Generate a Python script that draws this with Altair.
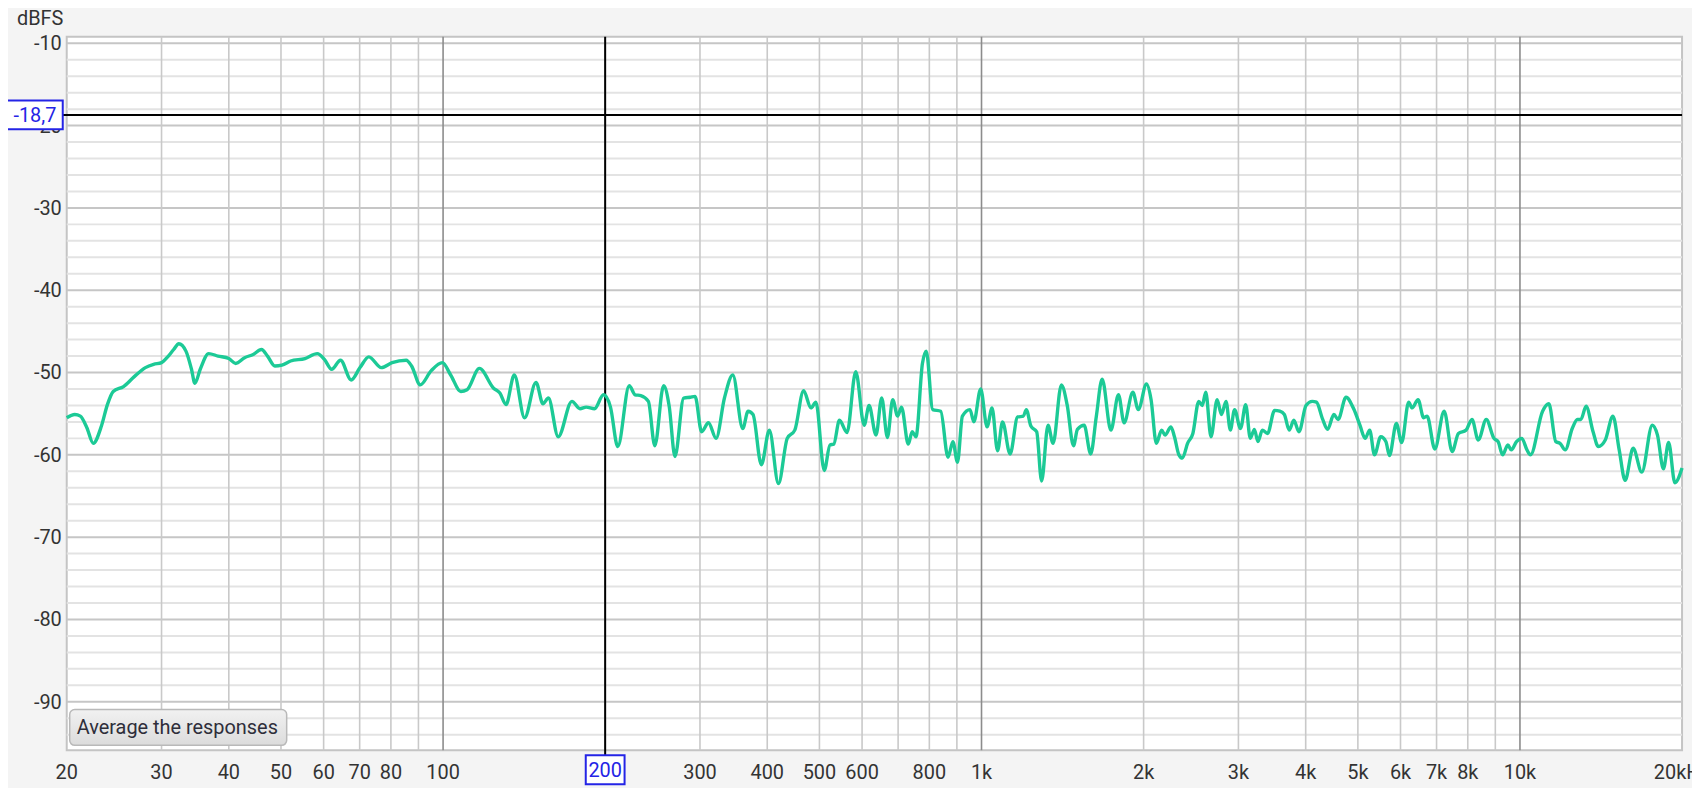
import altair as alt
import pandas as pd

# ---------------- data ----------------
freq = [20.0, 20.7, 21.2, 21.8, 22.4, 23.2, 23.8, 24.4, 25.5, 26.7, 28.0, 29.0, 30.0, 30.8, 31.6,
        32.3, 33.3, 34.1, 34.6, 35.4, 36.7, 38.2, 40.0, 41.2, 42.8, 44.4, 46.0, 47.2, 48.7, 50.2,
        52.1, 55.4, 58.4, 60.2, 62.1, 64.5, 67.5, 70.1, 72.8, 76.8, 80.4, 85.4, 87.4, 90.7, 95.0,
        99.7, 103.3, 107.9, 110.8, 116.8, 124.1, 127.5, 130.9, 135.6, 141.7, 148.8, 153.3, 156.9,
        163.6, 173.5, 179.6, 184.4, 191.1, 198.6, 204.6, 211.1, 221.7, 227.3, 232.9, 240.6, 247.3,
        256.8, 263.0, 269.6, 279.8, 287.7, 293.8, 302.1, 311.1, 321.4, 333.1, 345.2, 360.2, 368.5,
        376.4, 390.0, 403.6, 419.6, 435.7, 450.0, 467.3, 482.1, 492.5, 510.4, 523.0, 531.6, 544.7,
        562.6, 584.0, 605.4, 618.3, 636.8, 652.6, 668.7, 684.0, 698.6, 710.1, 731.2, 743.3, 755.5,
        776.7, 789.5, 811.6, 839.9, 866.5, 884.8, 902.3, 921.5, 952.0, 967.6, 996.5, 1024, 1046,
        1071, 1094, 1130, 1167, 1196, 1211, 1235, 1266, 1293, 1329, 1358, 1407, 1442, 1482, 1507,
        1551, 1595, 1634, 1675, 1739, 1796, 1840, 1910, 1955, 2025, 2065, 2112, 2160, 2192, 2248,
        2282, 2326, 2361, 2414, 2469, 2532, 2570, 2609, 2668, 2739, 2790, 2845, 2898, 2951, 3027,
        3095, 3156, 3212, 3261, 3323, 3398, 3502, 3581, 3651, 3728, 3802, 3887, 4005, 4114, 4188,
        4302, 4393, 4512, 4594, 4753, 4918, 5044, 5158, 5259, 5368, 5514, 5638, 5722, 5895, 6030,
        6213, 6306, 6468, 6625, 6724, 6948, 7231, 7483, 7686, 7941, 8145, 8366, 8659, 8947, 9108,
        9286, 9495, 9636, 9854, 10077, 10304, 10459, 11016, 11316, 11657, 11868, 12136, 12505,
        12787, 12976, 13268, 13671, 13980, 14403, 14883, 15287, 15678, 16225, 16838, 17607, 18005,
        18467, 18884, 19397, 20000]

level = [-55.5, -55.1, -55.3, -56.7, -58.6, -56.5, -53.9, -52.3, -51.7, -50.5, -49.4, -49.0, -48.8,
         -48.1, -47.2, -46.5, -47.4, -49.6, -51.3, -49.6, -47.7, -48.0, -48.3, -48.9, -48.2, -47.8,
         -47.2, -48.0, -49.2, -49.1, -48.6, -48.3, -47.7, -48.4, -49.6, -48.5, -50.9, -49.4, -48.1,
         -49.4, -48.8, -48.5, -49.2, -51.5, -49.8, -48.8, -50.3, -52.3, -52.1, -49.5, -51.9, -52.5,
         -53.9, -50.3, -55.5, -51.2, -53.8, -53.1, -57.8, -53.5, -54.4, -54.2, -54.4, -52.7, -54.2,
         -59.0, -51.6, -52.7, -52.8, -53.5, -58.9, -51.6, -54.1, -60.2, -53.1, -53.0, -52.9, -57.2,
         -56.1, -58.0, -53.1, -50.3, -56.8, -54.7, -55.1, -61.2, -57.0, -63.5, -58.0, -57.0, -52.2,
         -54.3, -53.6, -61.9, -58.8, -58.7, -55.8, -57.3, -49.9, -56.4, -54.0, -57.6, -53.1, -57.9,
         -53.3, -55.3, -54.2, -58.7, -57.2, -57.8, -48.9, -47.4, -54.5, -54.7, -60.3, -58.4, -60.9,
         -55.3, -54.5, -56.0, -52.0, -56.6, -54.3, -59.5, -56.0, -59.9, -55.4, -55.3, -54.5, -56.5,
         -57.2, -63.2, -56.4, -58.6, -51.5, -53.9, -58.9, -56.9, -56.4, -59.9, -55.3, -50.8, -57.0,
         -52.7, -56.1, -52.4, -54.5, -51.4, -53.3, -58.6, -57.0, -57.6, -56.6, -57.8, -60.0, -60.4,
         -58.6, -57.4, -53.5, -54.0, -52.4, -57.8, -53.3, -55.1, -53.5, -57.0, -54.5, -56.8, -53.9,
         -58.0, -56.9, -58.4, -57.0, -57.4, -54.6, -54.7, -55.1, -57.0, -55.8, -57.2, -54.0, -53.5,
         -53.6, -55.7, -56.9, -55.1, -55.7, -53.0, -54.5, -56.4, -58.0, -57.0, -60.0, -57.8, -58.4,
         -60.1, -56.2, -58.5, -53.6, -54.3, -53.3, -55.5, -55.3, -59.3, -54.7, -59.6, -57.4, -57.0,
         -55.7, -58.2, -55.7, -58.0, -58.4, -60.0, -58.8, -59.4, -58.4, -58.0, -59.4, -60.0, -54.7,
         -53.8, -58.4, -58.6, -59.4, -56.8, -55.7, -55.7, -54.1, -57.2, -59.0, -58.2, -55.3, -59.4,
         -63.1, -59.2, -62.1, -56.4, -57.6, -61.7, -58.5, -63.4, -61.6]

x_label_values = [20, 30, 40, 50, 60, 70, 80, 100, 300, 400, 500, 600, 800, 1000,
                  2000, 3000, 4000, 5000, 6000, 7000, 8000, 10000, 20000]
x_label_text = ["20", "30", "40", "50", "60", "70", "80", "100", "300", "400", "500", "600",
                "800", "1k", "2k", "3k", "4k", "5k", "6k", "7k", "8k", "10k", "20kHz"]
y_label_values = [-10, -20, -30, -40, -50, -60, -70, -80, -90]
y_label_text = ["-10", "-20", "-30", "-40", "-50", "-60", "-70", "-80", "-90"]
x_minor_grid = [30, 40, 50, 60, 70, 80, 90, 200, 300, 400, 500, 600, 700, 800, 900,
                2000, 3000, 4000, 5000, 6000, 7000, 8000, 9000]
x_decade_grid = [100, 1000, 10000]
y_major_grid = [-10, -20, -30, -40, -50, -60, -70, -80, -90]
y_minor_grid = [-12, -14, -16, -18, -22, -24, -26, -28, -32, -34, -36, -38, -42, -44, -46, -48,
                -52, -54, -56, -58, -62, -64, -66, -68, -72, -74, -76, -78, -82, -84, -86, -88,
                -92, -94]

cursor_freq = [200]
cursor_level = [-18.7]
cursor_freq_label = ["200"]
cursor_level_label = ["-18,7"]
button_label = ["Average the responses"]
y_unit = ["dBFS"]

# ---------------- chart ----------------
W, H = 1623, 717
FONT = "Roboto"
TEXT = "#333333"
BLUE = "#2424e6"

xs = alt.Scale(type="log", domain=[20, 20000], nice=False)
ys = alt.Scale(domain=[-95.9, -9.2], nice=False, zero=False)

resp = pd.DataFrame({"freq": freq, "level": level})
cur = pd.DataFrame({"freq": cursor_freq, "level": cursor_level,
                    "flab": cursor_freq_label, "llab": cursor_level_label})
btn = pd.DataFrame({"label": button_label})
xlab = pd.DataFrame({"v": x_label_values, "t": x_label_text})
ylab = pd.DataFrame({"v": y_label_values, "t": y_label_text})
unit = pd.DataFrame({"t": y_unit})


def hrules(vals, color, width):
    return alt.Chart(pd.DataFrame({"v": vals})).mark_rule(color=color, strokeWidth=width).encode(
        y=alt.Y("v:Q", scale=ys, axis=None))


def vrules(vals, color, width):
    return alt.Chart(pd.DataFrame({"v": vals})).mark_rule(color=color, strokeWidth=width).encode(
        x=alt.X("v:Q", scale=xs, axis=None))


g1 = hrules(y_minor_grid, "#e3e3e3", 2)
g2 = hrules(y_major_grid, "#c6c6c6", 2)
g3 = vrules(x_minor_grid, "#c9c9c9", 1.6)
g4 = vrules(x_decade_grid, "#8c8c8c", 1.6)

# tick labels drawn as text marks positioned through the scales
xticks = alt.Chart(xlab).mark_text(font=FONT, fontSize=20, color=TEXT, align="center",
                                   baseline="middle").encode(
    x=alt.X("v:Q", scale=xs, axis=None), y=alt.value(H + 23), text="t:N")
yticks = alt.Chart(ylab).mark_text(font=FONT, fontSize=20, color=TEXT, align="right",
                                   baseline="middle", dy=1).encode(
    y=alt.Y("v:Q", scale=ys, axis=None), x=alt.value(-5), text="t:N")
unit_title = alt.Chart(unit).mark_text(font=FONT, fontSize=20, color=TEXT, align="left",
                                       baseline="middle").encode(
    x=alt.value(-50), y=alt.value(-18), text="t:N")

base_cur = alt.Chart(cur)
vline = base_cur.mark_rule(color="black", strokeWidth=2).encode(
    x=alt.X("freq:Q", scale=xs, axis=None), y=alt.value(0), y2=alt.value(H + 5))
hline = base_cur.mark_rule(color="black", strokeWidth=2).encode(
    y=alt.Y("level:Q", scale=ys, axis=None), x=alt.value(-4), x2=alt.value(W))

line = alt.Chart(resp).mark_line(color="#1cca96", strokeWidth=3.4, interpolate="monotone",
                                 strokeJoin="round").encode(
    x=alt.X("freq:Q", scale=xs, axis=None),
    y=alt.Y("level:Q", scale=ys, axis=None))

# cursor level box (left)
lbox = base_cur.mark_rect(fill="white", stroke=BLUE, strokeWidth=2,
                          yOffset=-14.5, y2Offset=14.5).encode(
    y=alt.Y("level:Q", scale=ys, axis=None), y2="level:Q",
    x=alt.value(-60), x2=alt.value(-4))
ltext = base_cur.mark_text(font=FONT, fontSize=20, color=BLUE, align="center",
                           baseline="middle", dy=1).encode(
    y=alt.Y("level:Q", scale=ys, axis=None), x=alt.value(-32), text="llab:N")

# cursor frequency box (bottom)
fbox = base_cur.mark_rect(fill="white", stroke=BLUE, strokeWidth=2,
                          xOffset=-19.5, x2Offset=19.5).encode(
    x=alt.X("freq:Q", scale=xs, axis=None), x2="freq:Q",
    y=alt.value(H + 5), y2=alt.value(H + 34))
ftext = base_cur.mark_text(font=FONT, fontSize=20, color=BLUE, align="center",
                           baseline="middle", dy=1).encode(
    x=alt.X("freq:Q", scale=xs, axis=None), y=alt.value(H + 19.5), text="flab:N")

# button
grad = alt.Gradient(gradient="linear", x1=0, y1=0, x2=0, y2=1,
                    stops=[alt.GradientStop(offset=0, color="#f1f1f1"),
                           alt.GradientStop(offset=1, color="#dcdcdc")])
bbox = alt.Chart(btn).mark_rect(fill=grad, stroke="#b9b9b9", strokeWidth=1.5,
                                cornerRadius=5).encode(
    x=alt.value(3), x2=alt.value(221), y=alt.value(676), y2=alt.value(712))
btext = alt.Chart(btn).mark_text(font=FONT, fontSize=20, color="#2e2e3a", align="left",
                                 baseline="middle").encode(
    x=alt.value(10), y=alt.value(695), text="label:N")

chart = alt.layer(g1, g2, g3, g4, xticks, yticks, unit_title, vline, hline, line,
                  lbox, ltext, fbox, ftext, bbox, btext).properties(
    width=W, height=H,
    padding={"left": 59, "top": 27, "right": 10, "bottom": 36},
    autosize=alt.AutoSizeParams(type="none"),
    background="#f4f4f4",
).configure_view(fill="white", stroke="#c4c4c4", strokeWidth=2)

chart.save("out.html", embed_options={"renderer": "svg", "actions": False})
